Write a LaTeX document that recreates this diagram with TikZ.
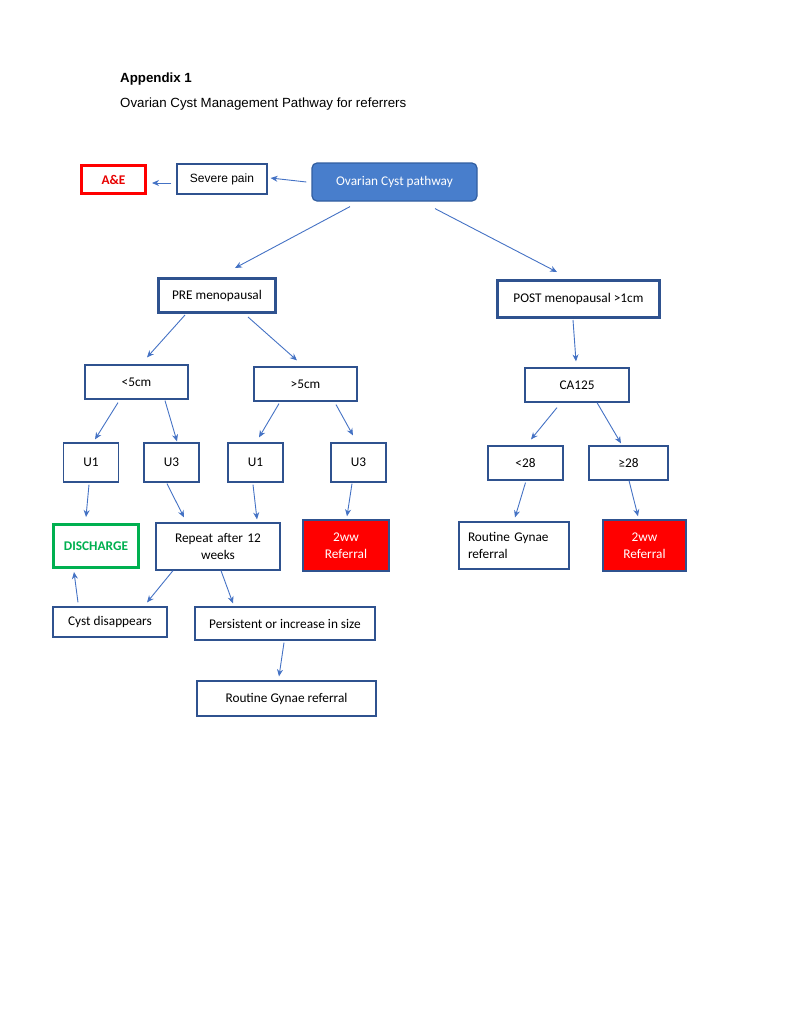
\documentclass[tikz,border=0pt]{standalone}
\usepackage{fontspec}
\setmainfont{Carlito}
\newfontfamily\arialfont{Liberation Sans}
\usepackage{tikz}
\usetikzlibrary{arrows.meta,positioning}
\definecolor{boxblue}{RGB}{47,82,143}
\definecolor{arrowblue}{RGB}{68,114,196}
\definecolor{startfill}{RGB}{72,126,204}
\definecolor{startedge}{RGB}{49,94,160}
\definecolor{okgreen}{RGB}{0,176,80}
\definecolor{aered}{RGB}{232,0,0}

\begin{document}
\begin{tikzpicture}[
  x=1pt, y=-1pt,
  box/.style={draw=boxblue, line width=1.2pt, fill=white, align=center,
    inner sep=2pt, font=\fontsize{13.3}{17}\selectfont},
  stage/.style={box, line width=3pt},
  ubox/.style={box, minimum width=55pt, minimum height=39pt},
  pathway/.style={box, draw=startedge, fill=startfill, rounded corners=5pt,
    text=white},
  urgent/.style={box, fill=red, text=white, line width=1.5pt},
  emerg/.style={box, draw=red, line width=3pt, text=aered,
    font=\fontsize{13.3}{17}\selectfont\bfseries},
  clear/.style={box, draw=okgreen, line width=3pt, text=okgreen,
    font=\fontsize{13.3}{17}\selectfont\bfseries},
  arr/.style={-{Stealth[length=7pt,width=6pt]}, draw=arrowblue, line width=0.9pt},
  title/.style={anchor=base west, inner sep=0pt,
    font=\arialfont\fontsize{13.3}{16}\selectfont}
]
\useasboundingbox (0,0) rectangle (792,1026);

\node[title, font=\arialfont\bfseries\fontsize{13.3}{16}\selectfont] (appx) at (120,82.5) {Appendix 1};
\node[title] (heading) at (120,107.5) {Ovarian Cyst Management Pathway for referrers};

\node[pathway, minimum width=165pt, minimum height=38pt] (path) at (394.5,182) {Ovarian Cyst pathway};
\node[box, font=\arialfont\fontsize{12}{15}\selectfont, minimum width=90pt, minimum height=30pt] (pain) at (222,179) {Severe pain};
\node[emerg, minimum width=64pt, minimum height=28pt] (ae) at (113.5,179.5) {A\&E};

\node[stage, minimum width=117pt, minimum height=34pt] (pre)  at (217,295.5) {PRE menopausal};
\node[stage, minimum width=162pt, minimum height=37pt] (post) at (578.5,299) {POST menopausal >1cm};

\node[box, minimum width=103pt, minimum height=34pt] (lt5) at (136.5,382) {<5cm};
\node[box, minimum width=103pt, minimum height=34pt] (gt5) at (305.5,384) {>5cm};
\node[box, minimum width=104pt, minimum height=34pt] (ca)  at (577,385)   {CA125};

\node[ubox] (u1l) at (91,462.5)    {U1};
\node[ubox] (u3l) at (171.5,462.5) {U3};
\node[ubox] (u1r) at (255.5,462.5) {U1};
\node[ubox] (u3r) at (358.5,462.5) {U3};
\node[box, minimum width=75pt, minimum height=34pt] (lt28) at (525.5,463) {<28};
\node[box, minimum width=79pt, minimum height=34pt] (ge28) at (628.5,463) {≥28};

\node[clear, minimum width=85pt, minimum height=43pt] (dis) at (96,546) {DISCHARGE};
\node[box, text width=112pt, minimum width=124pt, minimum height=47pt] (rep) at (218,546.5) {Repeat after 12\\weeks};
\node[urgent, text width=70pt, minimum width=86pt, minimum height=51pt] (ref2l) at (346,545.5) {2ww\\Referral};
\node[box, text width=92pt, align=left, inner xsep=9pt, minimum height=47pt] (rgr) at (514,545.5) {Routine Gynae\\referral};
\node[urgent, text width=60pt, minimum width=83pt, minimum height=51pt] (ref2r) at (644.5,545.5) {2ww\\Referral};

\node[box, minimum width=114pt, minimum height=30pt] (cyst) at (110,622)   {Cyst disappears};
\node[box, minimum width=180pt, minimum height=33pt] (pers) at (285,623.5) {Persistent or increase in size};
\node[box, minimum width=179pt, minimum height=35pt] (rgb)  at (286.5,698.5) {Routine Gynae referral};

\draw[arr] ([xshift=-5pt]path.west) -- ([xshift=3pt,yshift=1pt]pain.east);
\draw[arr] ([xshift=-5pt,yshift=-4pt]pain.west) -- ([xshift=5pt,yshift=-3.5pt]ae.east);
\draw[arr] ([xshift=-44.5pt,yshift=-5pt]path.south) -- ([xshift=18pt,yshift=9pt]pre.north);
\draw[arr] ([xshift=40.5pt,yshift=-7pt]path.south) -- ([xshift=-21.5pt,yshift=7pt]post.north);
\draw[arr] ([xshift=-32pt,yshift=-1pt]pre.south) -- ([xshift=10.5pt,yshift=7pt]lt5.north);
\draw[arr] ([xshift=31pt,yshift=-3pt]pre.south) -- ([xshift=-8.5pt,yshift=6pt]gt5.north);
\draw[arr] ([xshift=-18.5pt,yshift=-3pt]lt5.south) -- ([xshift=4pt,yshift=3pt]u1l.north);
\draw[arr] ([xshift=28.5pt,yshift=-1pt]lt5.south) -- ([xshift=5.5pt,yshift=1pt]u3l.north);
\draw[arr] ([xshift=-26.5pt,yshift=-2pt]gt5.south) -- ([xshift=3.5pt,yshift=5pt]u1r.north);
\draw[arr] ([xshift=30.5pt,yshift=-3pt]gt5.south) -- ([xshift=-5.5pt,yshift=7pt]u3r.north);
\draw[arr] ([xshift=-2pt,yshift=-2pt]u1l.south) -- ([xshift=-10pt,yshift=6pt]dis.north);
\draw[arr] ([xshift=-4.5pt,yshift=-1pt]u3l.south) -- ([xshift=-34pt,yshift=5pt]rep.north);
\draw[arr] ([xshift=-2.5pt,yshift=-2pt]u1r.south) -- ([xshift=39pt,yshift=3pt]rep.north);
\draw[arr] ([xshift=-6.5pt,yshift=-1pt]u3r.south) -- ([xshift=1pt,yshift=3pt]ref2l.north);
\draw[arr] ([xshift=-5.5pt,yshift=-1pt]post.south) -- ([xshift=-1pt,yshift=6pt]ca.north);
\draw[arr] ([xshift=-20pt,yshift=-5pt]ca.south) -- ([xshift=5.5pt,yshift=6pt]lt28.north);
\draw[arr] ([xshift=20pt]ca.south) -- ([xshift=-7.5pt,yshift=2pt]ge28.north);
\draw[arr] ([yshift=-2pt]lt28.south) -- ([xshift=1pt,yshift=4pt]rgr.north);
\draw[arr] ([xshift=0.5pt]ge28.south) -- ([xshift=-6.5pt,yshift=3pt]ref2r.north);
\draw[arr] ([xshift=-45pt]rep.south) -- ([xshift=37pt,yshift=4pt]cyst.north);
\draw[arr] ([xshift=3pt]rep.south) -- ([xshift=-52pt,yshift=3pt]pers.north);
\draw[arr] ([xshift=-32pt,yshift=4pt]cyst.north) -- ([xshift=-22pt,yshift=-3pt]dis.south);
\draw[arr] ([xshift=-1pt,yshift=-2pt]pers.south) -- ([xshift=-7.5pt,yshift=4pt]rgb.north);
\end{tikzpicture}
\end{document}
